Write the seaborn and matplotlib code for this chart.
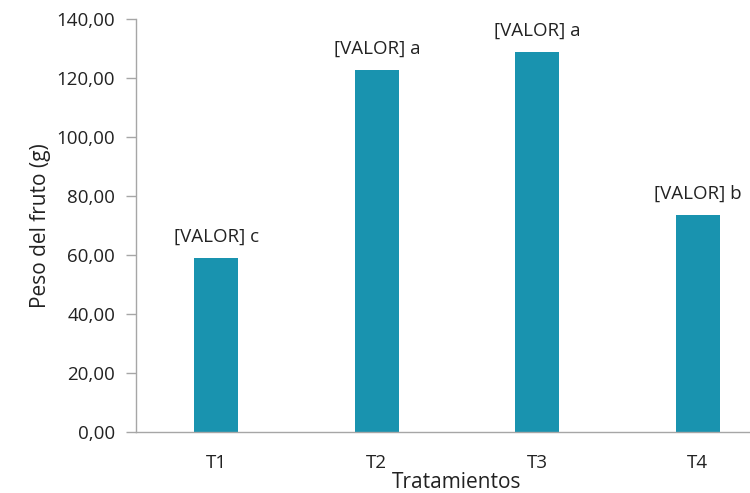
import matplotlib
matplotlib.use("Agg")
import matplotlib.pyplot as plt
import seaborn as sns
import pandas as pd

tratamientos = ["T1", "T2", "T3", "T4"]
peso = [59.0, 122.7, 128.8, 73.6]
letras = ["c", "a", "a", "b"]
y_ticks = [0, 20, 40, 60, 80, 100, 120, 140]

sns.set_theme(style="white")
plt.rcParams["font.family"] = ["Open Sans", "DejaVu Sans"]

df = pd.DataFrame({"Tratamiento": tratamientos, "Peso": peso})

fig = plt.figure(figsize=(7.5, 4.93), dpi=100)
ax = fig.add_axes([136 / 750, 1 - 432 / 493, 642 / 750, (432 - 19) / 493])

sns.barplot(data=df, x="Tratamiento", y="Peso", color="#1993AF",
            saturation=1, width=0.274, linewidth=0, ax=ax)

for i, (v, l) in enumerate(zip(peso, letras)):
    ax.annotate(f"[VALOR] {l}", (i, v), xytext=(0, 8.5), textcoords="offset points",
                ha="center", va="bottom", fontsize=13.5, color="#222222")

ax.set_xlim(-0.5, 3.5)
ax.set_ylim(0, 140)
ax.set_yticks(y_ticks)
ax.set_yticklabels([f"{t:.2f}".replace(".", ",") for t in y_ticks])
ax.set_xlabel("Tratamientos", fontsize=15, color="#222222", labelpad=0)
ax.set_ylabel("Peso del fruto (g)", fontsize=15, color="#222222", labelpad=4)

for s in ["top", "right"]:
    ax.spines[s].set_visible(False)
for s in ["left", "bottom"]:
    ax.spines[s].set_color("#A6A6A6")
    ax.spines[s].set_linewidth(1.0)
ax.tick_params(axis="y", left=True, length=7, width=1, color="#A6A6A6",
               labelsize=13.5, labelcolor="#222222", pad=8)
ax.tick_params(axis="x", bottom=False, labelsize=13.5, labelcolor="#222222", pad=10)

fig.savefig("out.png", dpi=100)
